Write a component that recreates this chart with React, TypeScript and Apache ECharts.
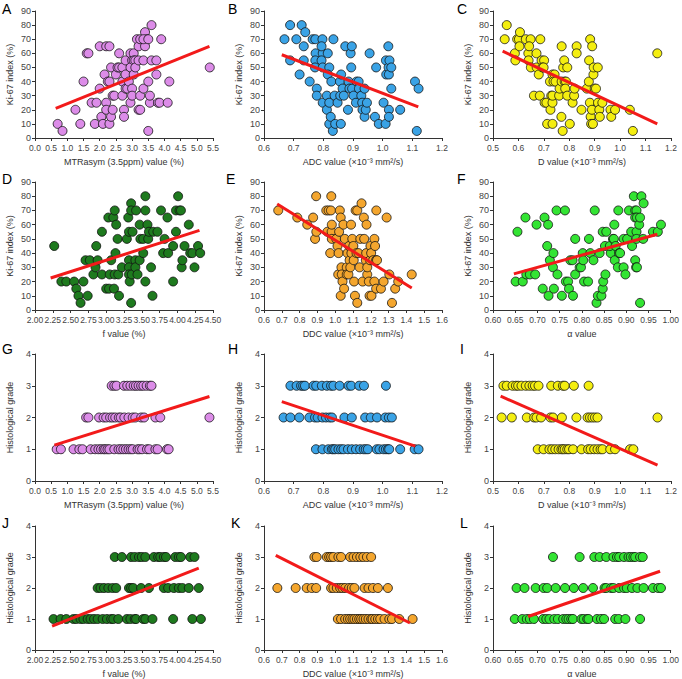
import React, { useEffect, useRef } from "react";
import * as echarts from "echarts";

// ---------- Ki-67 scatter data [x, Ki-67 %] ----------
const mtrKi67: number[][] = [
  [0.7, 10], [0.85, 5], [1.25, 20], [1.4, 10], [1.5, 40], [1.6, 60], [1.65, 60], [1.75, 25], [1.9, 25], [1.85, 10],
  [2.0, 35], [2.0, 65], [2.05, 15], [2.15, 45], [2.1, 10], [2.2, 65], [2.3, 65], [2.2, 25], [2.2, 20], [2.25, 40],
  [2.3, 40], [2.3, 10], [2.35, 50], [2.35, 15], [2.4, 20], [2.4, 30], [2.45, 30], [2.5, 45], [2.55, 50], [2.6, 60],
  [2.6, 50], [2.7, 50], [2.7, 40], [2.7, 30], [2.75, 20], [2.75, 15], [2.8, 55], [2.8, 45], [2.8, 35], [2.85, 35],
  [2.9, 40], [2.95, 60], [3.0, 55], [2.95, 50], [2.95, 25], [3.0, 35], [3.0, 30], [3.05, 60], [3.05, 55], [3.1, 55],
  [3.05, 45], [3.1, 50], [3.15, 70], [3.2, 65], [3.2, 55], [3.25, 30], [3.25, 70], [3.2, 20], [3.25, 20], [3.35, 35],
  [3.35, 55], [3.4, 75], [3.45, 70], [3.4, 65], [3.5, 5], [3.5, 40], [3.55, 25], [3.55, 30], [3.6, 80], [3.6, 55],
  [3.75, 55], [3.75, 45], [3.8, 25], [3.85, 25], [3.9, 70], [4.1, 25], [4.15, 40], [5.4, 50], [3.35, 70], [3.5, 70],
];
const adcKi67: number[][] = [
  [0.669, 70], [0.688, 80], [0.688, 55], [0.709, 70], [0.72, 45], [0.727, 80], [0.734, 65], [0.739, 75], [0.734, 55],
  [0.754, 40], [0.764, 70], [0.773, 70], [0.774, 60], [0.773, 55], [0.772, 50], [0.778, 35], [0.778, 30], [0.797, 70],
  [0.798, 60], [0.794, 65], [0.794, 55], [0.798, 50], [0.798, 25], [0.812, 30], [0.812, 20], [0.815, 60], [0.82, 50],
  [0.815, 45], [0.82, 25], [0.82, 10], [0.825, 15], [0.827, 40], [0.832, 5], [0.834, 70], [0.838, 30], [0.84, 10],
  [0.848, 25], [0.856, 40], [0.857, 30], [0.859, 10], [0.86, 45], [0.865, 35], [0.869, 30], [0.874, 65], [0.883, 20],
  [0.885, 40], [0.888, 35], [0.892, 60], [0.894, 50], [0.896, 65], [0.897, 35], [0.902, 30], [0.91, 25], [0.912, 40],
  [0.919, 40], [0.92, 35], [0.928, 30], [0.931, 25], [0.932, 20], [0.939, 35], [0.939, 15], [0.943, 20], [0.947, 25],
  [0.956, 60], [0.974, 15], [0.978, 50], [0.987, 10], [1.003, 25], [1.01, 10], [1.011, 55], [1.012, 45], [1.019, 65],
  [1.02, 50], [1.021, 45], [1.021, 20], [1.021, 15], [1.023, 55], [1.029, 50], [1.029, 35], [1.059, 20], [1.109, 40],
  [1.115, 5], [1.121, 35],
];
const dKi67: number[][] = [
  [0.546, 70], [0.554, 80], [0.586, 60], [0.588, 55], [0.595, 70], [0.602, 70], [0.606, 75], [0.604, 65], [0.629, 70],
  [0.648, 70], [0.639, 60], [0.64, 55], [0.642, 65], [0.649, 50], [0.661, 30], [0.671, 60], [0.672, 50], [0.68, 45],
  [0.684, 30], [0.686, 70], [0.691, 55], [0.701, 55], [0.694, 50], [0.699, 50], [0.703, 25], [0.71, 25], [0.713, 10],
  [0.724, 40], [0.726, 20], [0.729, 30], [0.734, 10], [0.734, 45], [0.742, 45], [0.734, 25], [0.738, 40], [0.746, 40],
  [0.734, 30], [0.76, 30], [0.762, 35], [0.769, 15], [0.77, 40], [0.77, 65], [0.774, 5], [0.776, 50], [0.78, 55],
  [0.782, 40], [0.787, 40], [0.784, 35], [0.792, 50], [0.792, 30], [0.802, 10], [0.813, 25], [0.819, 30], [0.821, 35],
  [0.829, 65], [0.829, 60], [0.848, 20], [0.869, 35], [0.877, 40], [0.878, 55], [0.882, 70], [0.881, 25], [0.884, 15],
  [0.886, 10], [0.893, 10], [0.889, 20], [0.89, 65], [0.895, 45], [0.896, 50], [0.9, 35], [0.905, 35], [0.912, 50],
  [0.913, 25], [0.918, 20], [0.92, 15], [0.93, 25], [0.962, 20], [0.965, 15], [0.98, 20], [1.038, 20], [1.05, 5],
  [1.146, 60],
];
const fKi67: number[][] = [
  [2.27, 45], [2.37, 20], [2.44, 20], [2.55, 20], [2.58, 15], [2.61, 10], [2.64, 5], [2.68, 20], [2.71, 35], [2.74, 10],
  [2.77, 35], [2.82, 25], [2.85, 30], [2.86, 45], [2.88, 35], [2.94, 55], [2.94, 25], [3.0, 15], [3.04, 15], [3.03, 65],
  [3.05, 25], [3.07, 35], [3.1, 65], [3.12, 70], [3.11, 15], [3.12, 25], [3.13, 40], [3.14, 60], [3.16, 50], [3.17, 25],
  [3.18, 10], [3.22, 30], [3.29, 50], [3.31, 65], [3.32, 55], [3.32, 35], [3.32, 30], [3.32, 25], [3.33, 20], [3.35, 75],
  [3.35, 5], [3.35, 70], [3.36, 25], [3.37, 55], [3.41, 35], [3.41, 30], [3.42, 70], [3.44, 25], [3.47, 35], [3.47, 60],
  [3.48, 50], [3.52, 50], [3.52, 40], [3.55, 80], [3.55, 70], [3.55, 20], [3.58, 60], [3.59, 50], [3.6, 55], [3.63, 30],
  [3.65, 10], [3.66, 55], [3.72, 55], [3.77, 70], [3.8, 40], [3.82, 50], [3.86, 65], [3.87, 40], [3.94, 20], [3.94, 45],
  [3.98, 55], [3.98, 70], [4.03, 70], [4.01, 80], [4.05, 70], [4.06, 30], [4.07, 35], [4.1, 45], [4.16, 60], [4.18, 40],
  [4.21, 40], [4.24, 30], [4.29, 45], [4.32, 40],
];
const ddcKi67: number[][] = [
  [0.68, 70], [0.787, 65], [0.843, 60], [0.876, 65], [0.887, 50], [0.894, 55], [0.893, 80], [0.95, 70], [0.963, 70],
  [0.956, 55], [0.972, 40], [0.978, 80], [0.976, 70], [0.98, 55], [0.981, 60], [0.981, 50], [1.006, 50], [1.013, 45],
  [1.019, 40], [1.017, 25], [1.022, 55], [1.026, 70], [1.031, 65], [1.031, 10], [1.035, 30], [1.037, 25], [1.041, 20],
  [1.046, 60], [1.05, 15], [1.054, 50], [1.065, 30], [1.065, 25], [1.074, 25], [1.069, 40], [1.078, 45], [1.081, 35],
  [1.085, 30], [1.089, 60], [1.091, 40], [1.096, 50], [1.102, 45], [1.104, 35], [1.106, 20], [1.111, 10], [1.115, 70],
  [1.124, 70], [1.12, 40], [1.124, 5], [1.131, 40], [1.137, 30], [1.141, 50], [1.148, 75], [1.154, 20], [1.161, 65],
  [1.163, 50], [1.172, 35], [1.174, 40], [1.176, 60], [1.18, 25], [1.18, 30], [1.189, 20], [1.193, 10], [1.196, 35],
  [1.198, 45], [1.202, 40], [1.204, 10], [1.213, 35], [1.22, 20], [1.22, 50], [1.224, 45], [1.23, 35], [1.235, 35],
  [1.23, 15], [1.231, 70], [1.257, 15], [1.272, 20], [1.289, 65], [1.304, 25], [1.319, 5], [1.337, 15], [1.354, 20],
  [1.43, 25],
];
const alphaKi67: number[][] = [
  [0.651, 20], [0.655, 55], [0.667, 20], [0.673, 65], [0.675, 25], [0.683, 25], [0.695, 25], [0.698, 60], [0.712, 15],
  [0.716, 65], [0.722, 45], [0.724, 60], [0.725, 10], [0.728, 35], [0.735, 30], [0.736, 40], [0.737, 15], [0.743, 70],
  [0.745, 25], [0.755, 10], [0.762, 70], [0.764, 20], [0.769, 20], [0.771, 15], [0.774, 35], [0.779, 35], [0.78, 10],
  [0.785, 50], [0.785, 25], [0.795, 30], [0.798, 30], [0.802, 40], [0.803, 35], [0.805, 20], [0.814, 20], [0.816, 50],
  [0.819, 40], [0.826, 35], [0.829, 70], [0.833, 5], [0.836, 10], [0.84, 40], [0.844, 10], [0.847, 15], [0.848, 20],
  [0.847, 55], [0.853, 25], [0.852, 45], [0.855, 55], [0.865, 40], [0.863, 45], [0.87, 50], [0.872, 50], [0.873, 60],
  [0.874, 35], [0.876, 45], [0.881, 30], [0.882, 70], [0.884, 40], [0.886, 40], [0.894, 50], [0.894, 30], [0.898, 25],
  [0.902, 50], [0.906, 70], [0.911, 55], [0.913, 45], [0.917, 80], [0.92, 70], [0.923, 70], [0.92, 65], [0.924, 65],
  [0.92, 35], [0.922, 30], [0.924, 30], [0.923, 55], [0.923, 50], [0.929, 60], [0.931, 65], [0.931, 5], [0.934, 80],
  [0.939, 75], [0.938, 50], [0.96, 55], [0.971, 55], [0.978, 60],
];

// ---------- Histological grade data (x values for grade 1, 2, 3) ----------
const mtrG1 = [0.67, 0.8, 1.19, 1.37, 1.47, 1.72, 1.86, 1.96, 2.04, 2.12, 2.17, 2.24, 2.3, 2.45, 2.58, 2.65, 2.73, 2.81, 2.89, 2.96, 3.02, 3.17, 3.23, 3.31, 3.46, 3.53, 3.72, 3.79, 4.08, 4.13];
const mtrG2 = [1.58, 1.65, 1.98, 2.12, 2.2, 2.32, 2.4, 2.48, 2.59, 2.65, 2.76, 2.89, 3.02, 3.1, 3.28, 3.37, 3.72, 3.87, 5.39];
const mtrG3 = [2.37, 2.45, 2.52, 2.75, 2.85, 2.95, 3.05, 3.12, 3.2, 3.28, 3.35, 3.45, 3.55, 3.6];
const adcG1 = [0.775, 0.797, 0.817, 0.829, 0.834, 0.84, 0.851, 0.86, 0.868, 0.883, 0.896, 0.91, 0.924, 0.936, 0.943, 0.95, 0.98, 0.989, 1.003, 1.011, 1.018, 1.022, 1.059, 1.108, 1.121];
const adcG2 = [0.666, 0.689, 0.719, 0.753, 0.772, 0.781, 0.797, 0.809, 0.821, 0.829, 0.871, 0.896, 0.941, 0.96, 0.981, 1.009, 1.021, 1.031];
const adcG3 = [0.689, 0.71, 0.725, 0.732, 0.738, 0.767, 0.776, 0.795, 0.812, 0.826, 0.834, 0.855, 0.885, 0.894, 0.921, 0.937, 1.011];
const dG1 = [0.676, 0.699, 0.722, 0.733, 0.745, 0.758, 0.769, 0.775, 0.782, 0.792, 0.799, 0.815, 0.848, 0.874, 0.884, 0.898, 0.911, 0.923, 0.931, 0.961, 0.98, 1.039, 1.052];
const dG2 = [0.534, 0.574, 0.633, 0.662, 0.671, 0.689, 0.726, 0.736, 0.771, 0.828, 0.872, 0.881, 0.891, 0.901, 0.911, 1.147];
const dG3 = [0.541, 0.554, 0.577, 0.59, 0.599, 0.612, 0.629, 0.643, 0.656, 0.665, 0.679, 0.729, 0.755, 0.775, 0.782, 0.818, 0.876];
const fG1 = [2.26, 2.36, 2.44, 2.54, 2.58, 2.64, 2.68, 2.74, 2.78, 2.83, 2.88, 2.95, 3.01, 3.07, 3.1, 3.17, 3.29, 3.34, 3.4, 3.42, 3.52, 3.55, 3.65, 3.94, 4.21, 4.33];
const fG2 = [2.88, 2.92, 2.97, 3.03, 3.09, 3.14, 3.32, 3.35, 3.38, 3.49, 3.6, 3.81, 3.87, 3.95, 4.02, 4.07, 4.16, 4.3];
const fG3 = [3.12, 3.22, 3.35, 3.4, 3.46, 3.5, 3.55, 3.67, 3.73, 3.76, 3.81, 3.84, 3.97, 4.02, 4.05, 4.18, 4.24];
const ddcG1 = [1.015, 1.033, 1.056, 1.071, 1.084, 1.097, 1.108, 1.122, 1.135, 1.146, 1.159, 1.172, 1.187, 1.202, 1.21, 1.225, 1.24, 1.253, 1.277, 1.304, 1.319, 1.36, 1.435];
const ddcG2 = [0.675, 0.778, 0.84, 0.868, 0.893, 0.977, 0.99, 1.009, 1.028, 1.041, 1.056, 1.078, 1.093, 1.108, 1.165, 1.187, 1.212, 1.24, 1.296];
const ddcG3 = [0.883, 0.896, 0.953, 0.966, 0.977, 0.99, 1.018, 1.033, 1.084, 1.103, 1.122, 1.141, 1.158, 1.178, 1.202];
const alphaG1 = [0.649, 0.666, 0.676, 0.683, 0.692, 0.713, 0.72, 0.727, 0.738, 0.746, 0.758, 0.765, 0.77, 0.776, 0.78, 0.799, 0.804, 0.812, 0.815, 0.834, 0.843, 0.85, 0.875, 0.883, 0.898, 0.931];
const alphaG2 = [0.653, 0.671, 0.696, 0.714, 0.722, 0.741, 0.762, 0.782, 0.803, 0.825, 0.851, 0.855, 0.866, 0.871, 0.884, 0.895, 0.901, 0.913, 0.925, 0.939, 0.96, 0.972, 0.978];
const alphaG3 = [0.735, 0.795, 0.828, 0.84, 0.855, 0.871, 0.879, 0.884, 0.895, 0.905, 0.91, 0.916, 0.92, 0.931, 0.937];

// ---------- Regression lines (end points) ----------
const fitKi67: number[][][] = [
  [[0.64, 21], [5.39, 65]],
  [[0.66, 59], [1.12, 22]],
  [[0.538, 61.5], [1.146, 10]],
  [[2.22, 22.5], [4.31, 56]],
  [[0.674, 74.5], [1.43, 15.5]],
  [[0.647, 25.4], [0.97, 53.3]],
];
const fitGrade: number[][][] = [
  [[0.6, 1.13], [5.39, 2.66]],
  [[0.66, 2.5], [1.11, 1.1]],
  [[0.53, 2.67], [1.147, 0.5]],
  [[2.24, 0.77], [4.3, 2.64]],
  [[0.666, 3.05], [1.42, 0.87]],
  [[0.679, 1.08], [0.976, 2.54]],
];

// ---------- Axes ----------
const panelLetters = ["A", "B", "C", "D", "E", "F", "G", "H", "I", "J", "K", "L"];
const xNames = [
  "MTRasym (3.5ppm) value (%)",
  "ADC value (×10⁻³ mm²/s)",
  "D value (×10⁻³ mm²/s)",
  "f value (%)",
  "DDC value (×10⁻³ mm²/s)",
  "α value",
];
const xMin = [0, 0.6, 0.5, 2.0, 0.6, 0.6];
const xMax = [5.5, 1.2, 1.2, 4.5, 1.6, 1.0];
const xStep = [0.5, 0.1, 0.1, 0.25, 0.1, 0.05];
const xDecimals = [1, 1, 1, 2, 1, 2];
const kiTicks = [0, 90, 10];
const gradeTicks = [0, 4, 1];
const colors = ["#DC8CE8", "#3AA3E6", "#F4EE10", "#1E7A1E", "#F4A62E", "#33E433"];

const ki67Sets = [mtrKi67, adcKi67, dKi67, fKi67, ddcKi67, alphaKi67];
const gradeSets = [
  [mtrG1, mtrG2, mtrG3],
  [adcG1, adcG2, adcG3],
  [dG1, dG2, dG3],
  [fG1, fG2, fG3],
  [ddcG1, ddcG2, ddcG3],
  [alphaG1, alphaG2, alphaG3],
];

// layout
const gridLeft = [35, 264, 493];
const gridWidth = 178;
const gridTop = [11, 182, 354, 526];
const gridHeight = [127, 128, 127, 126];
const letterX = [[2, 228, 457], [2, 226, 457], [2, 228, 460], [2, 231, 460]];
const letterY = [2, 172, 342, 516];

const FONT = "'Liberation Sans', Arial, Helvetica, sans-serif";

function buildOption() {
  const grid: any[] = [];
  const xAxis: any[] = [];
  const yAxis: any[] = [];
  const series: any[] = [];
  const graphic: any[] = [];
  for (let i = 0; i < 12; i++) {
    const row = Math.floor(i / 3);
    const col = i % 3;
    const p = i % 6;
    const isGrade = i >= 6;
    grid.push({ left: gridLeft[col], top: gridTop[row], width: gridWidth, height: gridHeight[row] });
    const axisCommon = {
      gridIndex: i,
      type: "value",
      nameLocation: "middle",
      nameTextStyle: { fontSize: 9, color: "#333", fontFamily: FONT },
      axisLine: { show: true, onZero: false, lineStyle: { color: "#333", width: 1 } },
      axisTick: { show: true, length: 3, lineStyle: { color: "#333", width: 1 } },
      splitLine: { show: false },
    };
    const dec = xDecimals[p];
    xAxis.push({
      ...axisCommon,
      min: xMin[p],
      max: xMax[p],
      interval: xStep[p],
      name: xNames[p],
      nameGap: 19,
      axisLabel: {
        margin: 5,
        fontSize: 8.5,
        color: "#444",
        fontFamily: FONT,
        showMinLabel: true,
        showMaxLabel: true,
        formatter: (v: number) => v.toFixed(dec),
      },
    });
    const t = isGrade ? gradeTicks : kiTicks;
    yAxis.push({
      ...axisCommon,
      min: t[0],
      max: t[1],
      interval: t[2],
      name: isGrade ? "Histological grade" : "Ki-67 index (%)",
      nameGap: 21,
      axisLabel: { margin: 4, fontSize: 9, color: "#444", fontFamily: FONT, showMinLabel: true, showMaxLabel: true },
    });
    let data: number[][];
    if (isGrade) {
      data = [];
      gradeSets[p].forEach((xs, g) => xs.forEach((x) => data.push([x, g + 1])));
    } else {
      data = ki67Sets[p];
    }
    series.push({
      type: "scatter",
      xAxisIndex: i,
      yAxisIndex: i,
      data,
      symbol: "circle",
      symbolSize: 9,
      itemStyle: { color: colors[p], borderColor: "#111", borderWidth: 0.8, opacity: 1 },
      z: 2,
    });
    series.push({
      type: "line",
      xAxisIndex: i,
      yAxisIndex: i,
      data: isGrade ? fitGrade[p] : fitKi67[p],
      symbol: "none",
      lineStyle: { color: "#F21A1A", width: 3 },
      z: 3,
    });
    graphic.push({
      type: "text",
      left: letterX[row][col],
      top: letterY[row],
      style: { text: panelLetters[i], fontSize: 14, fill: "#000", fontFamily: FONT },
    });
  }
  return { animation: false, backgroundColor: "#fff", grid, xAxis, yAxis, series, graphic };
}

export default function App() {
  const ref = useRef<HTMLDivElement>(null);
  useEffect(() => {
    if (!ref.current) return;
    const chart = echarts.init(ref.current, null, { renderer: "svg" });
    chart.setOption(buildOption());
    return () => chart.dispose();
  }, []);
  return (
    <div
      ref={ref}
      style={{ position: "fixed", left: 0, top: 0, width: 682, height: 679, background: "#fff" }}
    />
  );
}
